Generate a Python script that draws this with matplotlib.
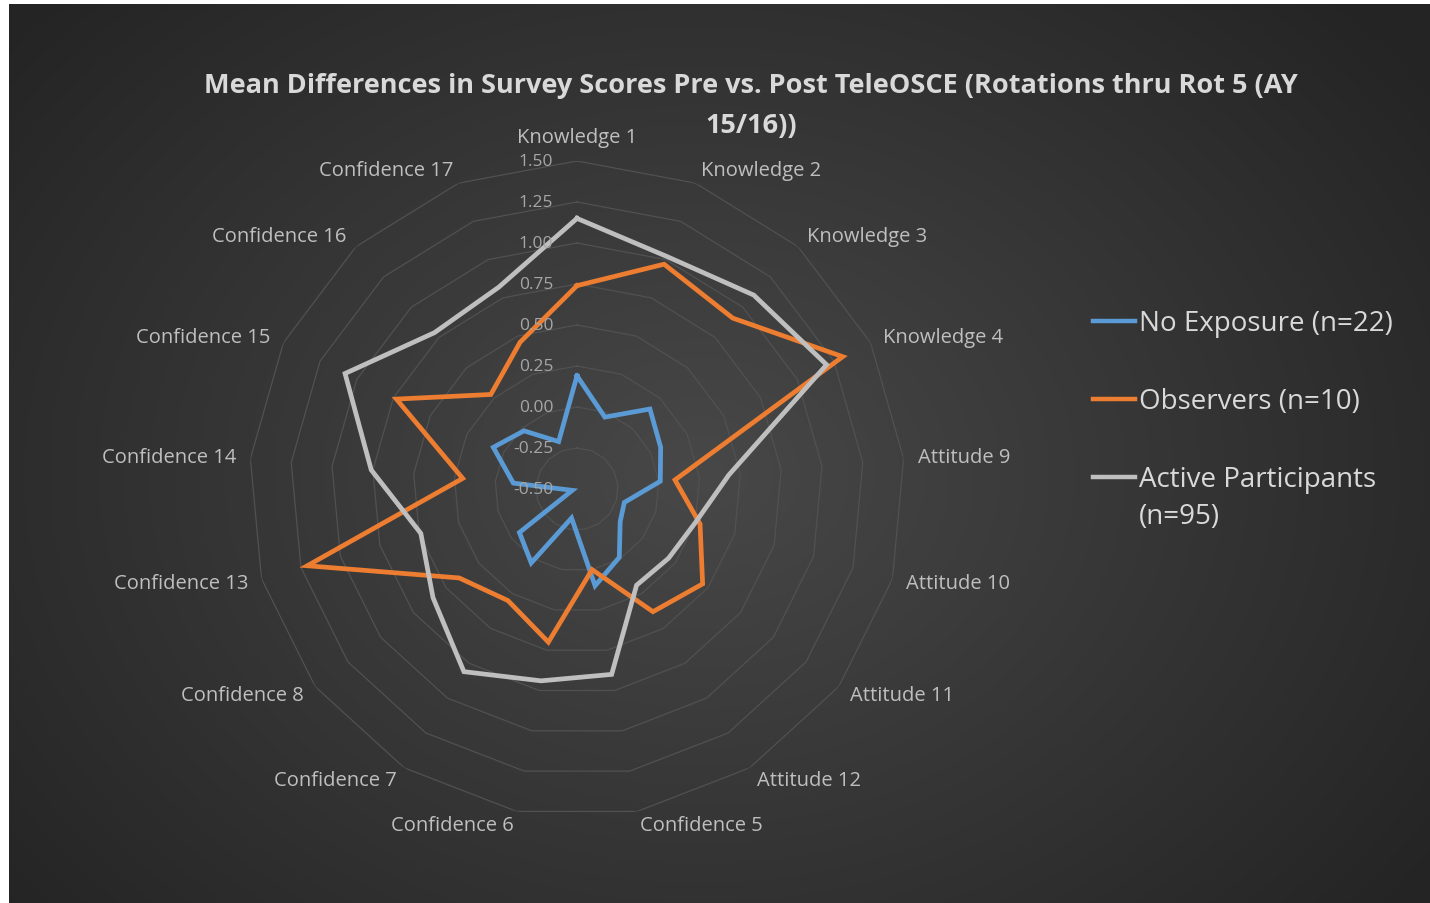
import numpy as np
import matplotlib
matplotlib.use("Agg")
import matplotlib.pyplot as plt
from matplotlib.lines import Line2D

# ---------------- data ----------------
categories = ["Knowledge 1", "Knowledge 2", "Knowledge 3", "Knowledge 4",
              "Attitude 9", "Attitude 10", "Attitude 11", "Attitude 12",
              "Confidence 5", "Confidence 6", "Confidence 7", "Confidence 8",
              "Confidence 13", "Confidence 14", "Confidence 15", "Confidence 16",
              "Confidence 17"]
no_exposure = [0.19, -0.03, 0.16, 0.07, 0.01, -0.20, -0.17, -0.01, 0.10,
               -0.32, 0.03, -0.06, -0.47, -0.11, 0.07, -0.02, -0.19]
observers = [0.74, 0.97, 0.91, 1.31, 0.10, 0.28, 0.46, 0.38, 0.00,
             0.45, 0.30, 0.40, 1.21, 0.20, 0.73, 0.28, 0.46]
active = [1.15, 1.02, 1.10, 1.20, 0.43, 0.25, 0.20, 0.19, 0.65,
          0.69, 0.81, 0.60, 0.49, 0.76, 1.08, 0.79, 0.82]
series_labels = ["No Exposure (n=22)", "Observers (n=10)", "Active Participants\n(n=95)"]
tick_values = [-0.50, -0.25, 0.00, 0.25, 0.50, 0.75, 1.00, 1.25, 1.50]
title_lines = ["Mean Differences in Survey Scores Pre vs. Post TeleOSCE (Rotations thru Rot 5 (AY",
               "15/16))"]

colors = ["#5B9BD5", "#ED7D31", "#BFBFBF"]
FONT = "Open Sans"

W, H = 1430, 904
fig = plt.figure(figsize=(W / 100, H / 100), dpi=100, facecolor="white")

# ---------------- gradient background ----------------
bg = fig.add_axes([9 / W, 0, 1 - 9 / W, 1 - 5 / H])
bg.set_axis_off()
gh, gw = 899, 1421
yy, xx = np.mgrid[0:gh, 0:gw]
d = np.sqrt(((xx - 690) / 900.0) ** 2 + ((yy - 470) / 700.0) ** 2)
d = np.clip(d, 0, 1)
c0, c1 = 0x48 / 255, 0x24 / 255
val = c0 + (c1 - c0) * d
img = np.dstack([val, val, val])
bg.imshow(img, aspect="auto", extent=[0, 1, 0, 1], origin="upper")
bg.set_xlim(0, 1)
bg.set_ylim(0, 1)

# ---------------- radar ----------------
cx, cy, R = 577, 490, 328
ax = fig.add_axes([(cx - R) / W, (H - cy - R) / H, 2 * R / W, 2 * R / H], projection="polar")
ax.set_facecolor("none")
ax.set_theta_zero_location("N")
ax.set_theta_direction(-1)
rmin, rmax = tick_values[0], tick_values[-1]
ax.set_ylim(rmin, rmax)
ax.grid(False)
ax.spines["polar"].set_visible(False)
ax.set_xticks([])
ax.set_yticks([])

n = len(categories)
theta = np.arange(n) * 2 * np.pi / n
theta_c = np.append(theta, theta[0])

# polygon gridlines
for v in tick_values[1:]:
    ax.plot(theta_c, [v] * (n + 1), color="#515151", lw=0.9, zorder=1)

# tick labels
for v in tick_values:
    ax.annotate(f"{v:.2f}", xy=(0, v), xytext=(-17, 0), textcoords="offset points",
                ha="right", va="center", color="#a6a6a6", fontsize=12.5, family=FONT, zorder=5)

# category labels
rl = rmin + (rmax - rmin) * 342 / R
for t, lab in zip(theta, categories):
    s = np.sin(t)
    if abs(s) < 0.05:
        ha, va = "center", "bottom"
    elif s > 0:
        ha, va = "left", "center"
    else:
        ha, va = "right", "center"
    ax.text(t, rl, lab, ha=ha, va=va, color="#bfbfbf", fontsize=14.5, family=FONT, clip_on=False)

# series
for vals, col, lab in zip([no_exposure, observers, active], colors, series_labels):
    ax.plot(theta_c, list(vals) + [vals[0]], color=col, lw=3.4, zorder=3,
            solid_joinstyle="miter", label=lab)

# title (wrapped onto two lines as in the reference)
for i, line in enumerate(title_lines):
    fig.text(751 / W, 1 - (86 + 40 * i) / H, line, ha="center", va="center", color="#d9d9d9",
             fontsize=19.5, fontweight="bold", family=FONT)

# legend (drawn manually so that the wrapped label keeps its key on the first line)
leg_x0, leg_x1, leg_tx = 1093 / W, 1135 / W, 1139 / W
leg_y = [322, 400, 478]
for yv, col, lab in zip(leg_y, colors, series_labels):
    yf = 1 - yv / H
    fig.add_artist(Line2D([leg_x0, leg_x1], [yf, yf], color=col, lw=3.2,
                          transform=fig.transFigure))
    fig.text(leg_tx, yf + 12 / H, lab, ha="left", va="top", color="#d9d9d9",
             fontsize=20, family=FONT, linespacing=1.45)

fig.savefig("out.png", dpi=100, facecolor="white")
